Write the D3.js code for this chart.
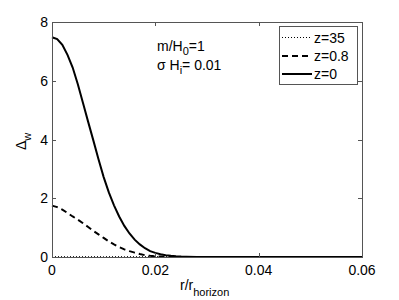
<!DOCTYPE html>
<html><head><meta charset="utf-8">
<script src="https://cdn.jsdelivr.net/npm/d3@7"></script>
<style>body{margin:0;background:#fff}svg{display:block}text{font-family:"Liberation Sans",Arial,sans-serif;fill:#000}</style>
</head><body>
<script>
const xs = [0,0.001,0.002,0.003,0.004,0.005,0.006,0.007,0.008,0.009,0.010,0.011,0.012,0.013,0.014,0.015,0.016,0.017,0.018,0.019,0.020,0.021,0.022,0.023,0.024,0.025,0.026,0.028,0.030,0.035,0.040,0.045,0.050,0.055,0.060];
const z0 = [7.48,7.42,7.22,6.88,6.45,5.88,5.24,4.60,3.97,3.33,2.72,2.20,1.76,1.38,1.06,0.80,0.59,0.43,0.30,0.20,0.14,0.094,0.061,0.039,0.025,0.015,0.009,0.003,0.001,0,0,0,0,0,0];
const z08 = [1.75,1.70,1.61,1.50,1.38,1.27,1.15,1.02,0.89,0.77,0.65,0.53,0.43,0.34,0.26,0.20,0.15,0.10,0.06,0.04,0.025,0.015,0.008,0.005,0.003,0.002,0.001,0,0,0,0,0,0,0,0];
const z35 = [0.012,0.012,0.012,0.012,0.012,0.012,0.012,0.012,0.012,0.012,0.012,0.012,0.012,0.012,0.012,0.012,0.012,0.012,0.012,0.012,0.012,0.012,0.012,0.012,0.012,0.012,0.012,0.012,0.012,0.012,0.012,0.012,0.012,0.012,0.012];
const xTicks = [0,0.02,0.04,0.06];
const xTickLabels = ["0","0.02","0.04","0.06"];
const yTicks = [0,2,4,6,8];
const seriesNames = ["z=35","z=0.8","z=0"];

const W=399,H=300, L=52,R=362,T=22,B=257;
const svg=d3.select("body").append("svg").attr("width",W).attr("height",H);
const x=d3.scaleLinear().domain([0,0.06]).range([L,R]);
const y=d3.scaleLinear().domain([0,8]).range([B,T]);

const line=d3.line().x(d=>x(d[0])).y(d=>y(d[1]));
const styles=[
 {data:z35, w:1, dash:"1,2"},
 {data:z08, w:2, dash:"6,4"},
 {data:z0, w:2, dash:null}
];
styles.forEach(s=>{
  svg.append("path").attr("d",line(xs.map((v,i)=>[v,s.data[i]])))
   .attr("fill","none").attr("stroke","#000").attr("stroke-width",s.w)
   .attr("stroke-dasharray",s.dash);
});

// axes box
const ax="#555";
svg.append("rect").attr("x",L+0.5).attr("y",T+0.5).attr("width",R-L).attr("height",B-T)
  .attr("fill","none").attr("stroke",ax).attr("stroke-width",1);
const tl=4;
xTicks.forEach((t,i)=>{
  const px=Math.round(x(t))+0.5;
  svg.append("line").attr("x1",px).attr("x2",px).attr("y1",B).attr("y2",B-tl).attr("stroke",ax);
  svg.append("line").attr("x1",px).attr("x2",px).attr("y1",T).attr("y2",T+tl).attr("stroke",ax);
  svg.append("text").attr("x",x(t)).attr("y",B+18).attr("text-anchor","middle").attr("font-size",14).text(xTickLabels[i]);
});
yTicks.forEach(t=>{
  const py=Math.round(y(t))+0.5;
  svg.append("line").attr("x1",L).attr("x2",L+tl).attr("y1",py).attr("y2",py).attr("stroke",ax);
  svg.append("line").attr("x1",R).attr("x2",R-tl).attr("y1",py).attr("y2",py).attr("stroke",ax);
  svg.append("text").attr("x",L-4).attr("y",y(t)+5).attr("text-anchor","end").attr("font-size",14).text(t);
});

// axis labels
const xl=svg.append("text").attr("x",180).attr("y",290).attr("font-size",14);
xl.append("tspan").text("r/r");
xl.append("tspan").attr("font-size",11).attr("dy",6).text("horizon");
const yl=svg.append("text").attr("transform","translate(26,150) rotate(-90)").attr("font-size",14);
yl.append("tspan").text("Δ");
yl.append("tspan").attr("font-size",11).attr("dy",5).text("w");

// annotations
const a1=svg.append("text").attr("x",157).attr("y",51).attr("font-size",14);
a1.append("tspan").text("m/H");
a1.append("tspan").attr("font-size",11).attr("dy",4).text("0");
a1.append("tspan").attr("dy",-4).text("=1");
const a2=svg.append("text").attr("x",157).attr("y",70).attr("font-size",14);
a2.append("tspan").text("σ H");
a2.append("tspan").attr("font-size",11).attr("dy",4).text("i");
a2.append("tspan").attr("dy",-4).text("= 0.01");

// legend
svg.append("rect").attr("x",279.5).attr("y",26.5).attr("width",78).attr("height",58)
  .attr("fill","#fff").attr("stroke",ax);
const legY=[37.5,56,74];
styles.forEach((s,i)=>{
  svg.append("line").attr("x1",282).attr("x2",312).attr("y1",legY[i]).attr("y2",legY[i])
    .attr("stroke","#000").attr("stroke-width",s.w).attr("stroke-dasharray",s.dash);
  svg.append("text").attr("x",314).attr("y",legY[i]+5).attr("font-size",14).text(seriesNames[i]);
});
</script>
</body></html>
